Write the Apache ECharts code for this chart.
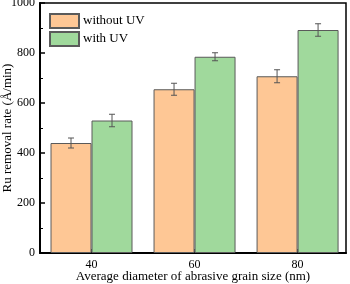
<!DOCTYPE html>
<html><head><meta charset="utf-8">
<script src="https://cdn.jsdelivr.net/npm/echarts@6/dist/echarts.min.js"></script>
<style>html,body{margin:0;padding:0;background:#fff}#c{width:350px;height:284px}</style>
</head><body><div id="c"></div>
<script>
var grainSizes = [40, 60, 80];
var withoutUV = [440, 655, 707];
var withUV = [530, 785, 892];
var errWithout = [20, 24, 26];
var errWith = [25, 16, 25];
var yTicks = [0, 200, 400, 600, 800, 1000];

var FONT = 'Liberation Serif, Times New Roman, serif';
var BW = 41;
var chart = echarts.init(document.getElementById('c'), null, {renderer: 'canvas'});

function errSeries(vals, errs, offset) {
  var data = grainSizes.map(function (x, i) { return [x, vals[i], errs[i]]; });
  return {
    type: 'custom', silent: true, z: 5,
    data: data,
    renderItem: function (params, api) {
      var x = api.value(0), v = api.value(1), e = api.value(2);
      var top = api.coord([x, v + e]);
      var bot = api.coord([x, v - e]);
      var cx = top[0] + offset;
      var cap = 3;
      var st = {stroke: '#555', lineWidth: 1};
      return {type: 'group', children: [
        {type: 'line', shape: {x1: cx, y1: top[1], x2: cx, y2: bot[1]}, style: st},
        {type: 'line', shape: {x1: cx - cap, y1: top[1], x2: cx + cap, y2: top[1]}, style: st},
        {type: 'line', shape: {x1: cx - cap, y1: bot[1], x2: cx + cap, y2: bot[1]}, style: st}
      ]};
    }
  };
}

var option = {
  animation: false,
  backgroundColor: '#fff',
  textStyle: {fontFamily: FONT},
  grid: {left: 40, right: 4, top: 3, bottom: 31, show: true, borderColor: '#000', borderWidth: 1.5,
         containLabel: false, outerBoundsMode: 'none'},
  legend: {
    orient: 'vertical', left: 49, top: 13, padding: 0, itemWidth: 29, itemHeight: 14, itemGap: 2, icon: 'rect',
    textStyle: {fontFamily: FONT, fontSize: 13, color: '#000', padding: [0, 0, 0, -1]},
    data: ['without UV', 'with UV']
  },
  xAxis: {
    type: 'value', min: 30, max: 89.4,
    axisLine: {show: true, onZero: false, lineStyle: {color: '#000', width: 2}},
    axisTick: {show: true, inside: true, length: 4, customValues: grainSizes, lineStyle: {color: '#000', width: 1.5}},
    axisLabel: {customValues: grainSizes, margin: 6, fontFamily: FONT, fontSize: 12, color: '#000'},
    splitLine: {show: false},
    name: 'Average diameter of abrasive grain size (nm)', nameLocation: 'middle', nameGap: 17,
    nameMoveOverlap: false,
    nameTextStyle: {fontFamily: FONT, fontSize: 13, color: '#000'}
  },
  yAxis: {
    type: 'value', min: 0, max: 1000, interval: 200,
    axisLine: {show: true, lineStyle: {color: '#000', width: 2}},
    axisTick: {show: true, inside: true, length: 5, lineStyle: {color: '#000', width: 1.5}},
    minorTick: {show: true, splitNumber: 2, length: 3, lineStyle: {color: '#000', width: 1}},
    axisLabel: {margin: 5, fontFamily: FONT, fontSize: 12, color: '#000', formatter: function (v) { return String(v); }},
    splitLine: {show: false},
    name: 'Ru removal rate (Å/min)', nameLocation: 'middle', nameGap: 26,
    nameMoveOverlap: false,
    nameTextStyle: {fontFamily: FONT, fontSize: 13, color: '#000'}
  },
  series: [
    {name: 'without UV', type: 'bar', barWidth: BW, barGap: '0%',
     data: grainSizes.map(function (x, i) { return [x, withoutUV[i]]; }),
     itemStyle: {color: '#FEC795', borderColor: '#5a5a5a', borderWidth: 1}},
    {name: 'with UV', type: 'bar', barWidth: BW, barGap: '0%',
     data: grainSizes.map(function (x, i) { return [x, withUV[i]]; }),
     itemStyle: {color: '#A0D99C', borderColor: '#5a5a5a', borderWidth: 1}},
    errSeries(withoutUV, errWithout, -BW / 2),
    errSeries(withUV, errWith, BW / 2)
  ]
};
chart.setOption(option);
</script></body></html>
